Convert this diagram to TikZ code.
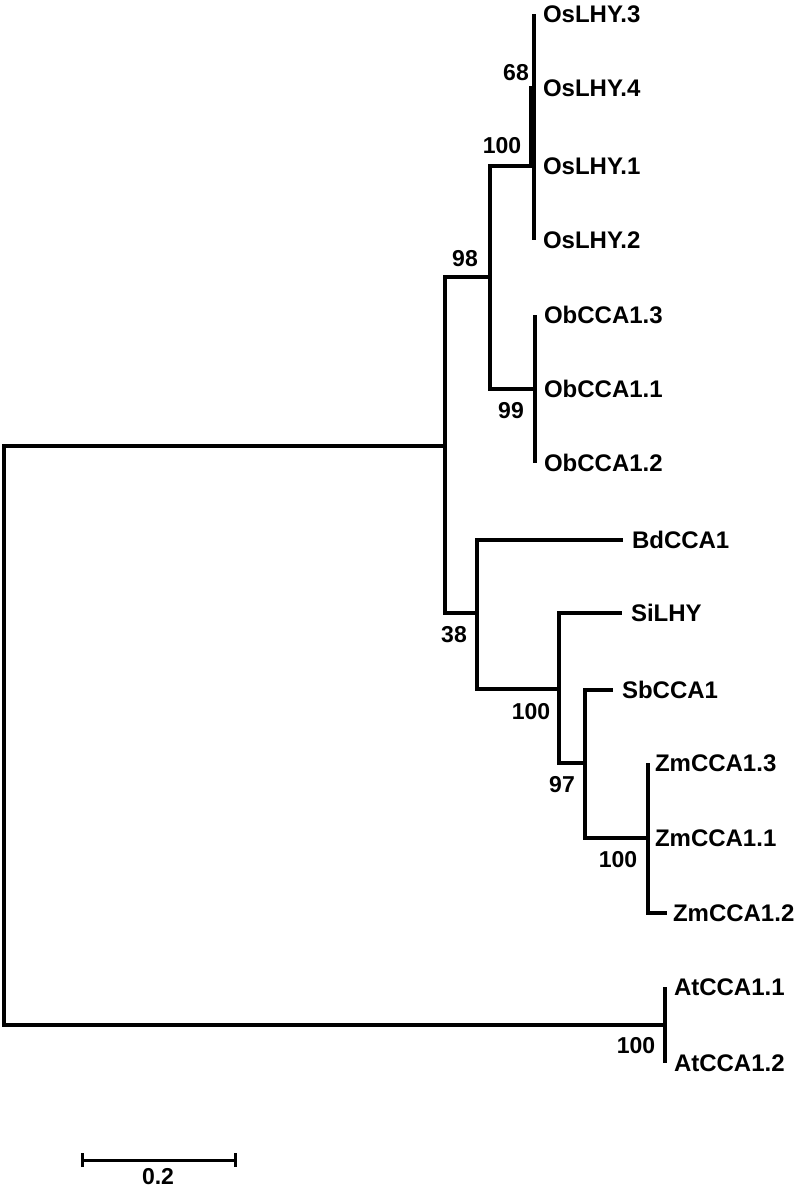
\documentclass[tikz,border=0pt]{standalone}
\usepackage{fontspec}
\setmainfont{Liberation Sans}
\usetikzlibrary{arrows.meta}
\begin{document}
\begin{tikzpicture}[x=1pt,y=-1pt,
  branch/.style={line width=3.2pt,line join=miter},
  leaf/.style={anchor=west,inner sep=0pt,outer xsep=9pt,outer ysep=0pt,text height=17pt,text depth=0pt,font=\fontsize{24}{28}\selectfont\bfseries},
  boot/.style={inner sep=0pt,text height=17pt,text depth=0pt,font=\fontsize{23}{27}\selectfont\bfseries}]
\useasboundingbox (0,0) rectangle (800,1188);
% internal nodes
\coordinate (root) at (4,735);
\coordinate (ing) at (445,446);
\coordinate (at) at (665,1025);
\coordinate (n98) at (490,277);
\coordinate (os100) at (534,166);
\coordinate (os100b) at (531,166);
\coordinate (n68) at (534,88);
\coordinate (ob99) at (535,389);
\coordinate (n38) at (477,613);
\coordinate (si100) at (559,689);
\coordinate (n97) at (585,763);
\coordinate (zm100) at (648,838);
% leaves (west anchor = branch tip)
\node[leaf] (OsLHY3) at (534,14) {OsLHY.3};
\node[leaf] (OsLHY4) at (534,88) {OsLHY.4};
\node[leaf] (OsLHY1) at (534,166) {OsLHY.1};
\node[leaf] (OsLHY2) at (534,240) {OsLHY.2};
\node[leaf] (ObCCA13) at (535,315) {ObCCA1.3};
\node[leaf] (ObCCA11) at (535,389) {ObCCA1.1};
\node[leaf] (ObCCA12) at (535,463) {ObCCA1.2};
\node[leaf] (BdCCA1) at (623,540) {BdCCA1};
\node[leaf] (SiLHY) at (622,613) {SiLHY};
\node[leaf] (SbCCA1) at (613,690) {SbCCA1};
\node[leaf,outer xsep=7pt] (ZmCCA13) at (648,763) {ZmCCA1.3};
\node[leaf,outer xsep=7pt] (ZmCCA11) at (648,838) {ZmCCA1.1};
\node[leaf,outer xsep=6pt] (ZmCCA12) at (667,913) {ZmCCA1.2};
\node[leaf] (AtCCA11) at (665,987) {AtCCA1.1};
\node[leaf] (AtCCA12) at (665,1063) {AtCCA1.2};
% branches
\draw[branch] (root) |- (ing);
\draw[branch] (root) |- (at);
\draw[branch] (at) |- (AtCCA11.west);
\draw[branch] (at) |- (AtCCA12.west);
\draw[branch] (ing) |- (n98);
\draw[branch] (ing) |- (n38);
\draw[branch] (n98) |- (os100);
\draw[branch] (n98) |- (ob99);
\draw[branch] (os100) |- (n68);
\draw[branch] (os100b) |- (n68);
\draw[branch] (n68) |- (OsLHY3.west);
\draw[branch] (n68) |- (OsLHY4.west);
\draw[branch] (os100) |- (OsLHY1.west);
\draw[branch] (os100) |- (OsLHY2.west);
\draw[branch] (ob99) |- (ObCCA13.west);
\draw[branch] (ob99) |- (ObCCA11.west);
\draw[branch] (ob99) |- (ObCCA12.west);
\draw[branch] (n38) |- (BdCCA1.west);
\draw[branch] (n38) |- (si100);
\draw[branch] (si100) |- (SiLHY.west);
\draw[branch] (si100) |- (n97);
\draw[branch] (n97) |- (SbCCA1.west);
\draw[branch] (n97) |- (zm100);
\draw[branch] (zm100) |- (ZmCCA13.west);
\draw[branch] (zm100) |- (ZmCCA11.west);
\draw[branch] (zm100) |- (ZmCCA12.west);
% bootstrap values
\node[boot] (b68) at (516,72) {68};
\node[boot] (b100os) at (502,145) {100};
\node[boot] (b98) at (465,258) {98};
\node[boot] (b99) at (511,410) {99};
\node[boot] (b38) at (454,634) {38};
\node[boot] (b100si) at (531,711) {100};
\node[boot] (b97) at (562,784) {97};
\node[boot] (b100zm) at (618,859) {100};
\node[boot] (b100at) at (636,1045) {100};
% scale bar
\coordinate (sb1) at (81,1160);
\coordinate (sb2) at (237,1160);
\draw[line width=3pt,{Bar[width=14pt]}-{Bar[width=14pt]}] (sb1) -- (sb2);
\node[boot] (sblabel) at (158,1176) {0.2};
\end{tikzpicture}
\end{document}
